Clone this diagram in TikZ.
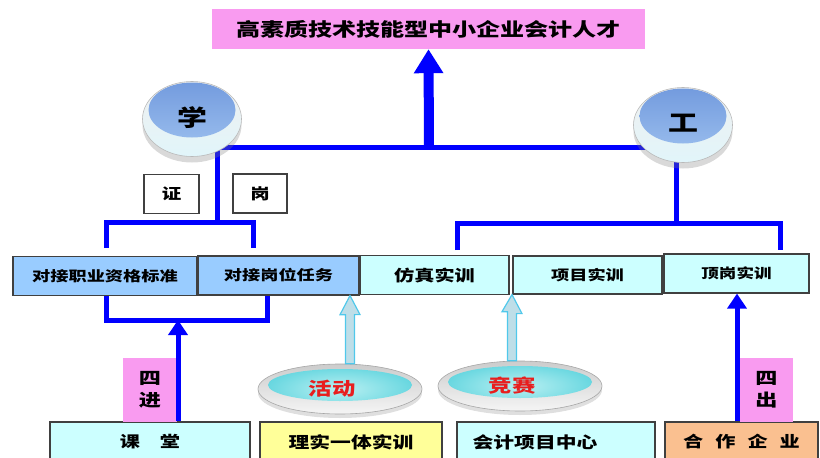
\documentclass[tikz,border=0pt]{standalone}
\usepackage{fontspec}
\setmainfont[FakeStretch=1.3]{Noto Sans CJK SC}
\usetikzlibrary{shapes.geometric,arrows.meta,shadows,backgrounds}

\definecolor{titlepink}{RGB}{249,155,240}
\definecolor{dockblue}{RGB}{153,204,255}
\definecolor{palecyan}{RGB}{204,255,255}
\definecolor{paleyellow}{RGB}{255,255,153}
\definecolor{paleorange}{RGB}{250,192,144}
\definecolor{linkblue}{RGB}{0,0,255}
\definecolor{rimgray}{RGB}{64,64,64}
\definecolor{balltop}{RGB}{115,155,222}
\definecolor{balllow}{RGB}{160,195,240}
\definecolor{ballrim}{RGB}{225,245,250}
\definecolor{discteal}{RGB}{95,212,222}
\definecolor{disclight}{RGB}{185,240,242}
\definecolor{hollowfill}{RGB}{190,222,232}
\definecolor{hollowline}{RGB}{80,200,235}
\definecolor{discred}{RGB}{232,30,30}

\tikzset{
  link/.style={draw=linkblue, line width=5pt},
  uparrow/.style={link, -{Triangle[width=19pt,length=15pt]}},
  hollow/.style={draw=hollowline, fill=hollowfill, line width=1.2pt, line join=miter},
  box/.style={draw=rimgray, line width=1.2pt, inner sep=0pt, minimum height=39pt},
  tag/.style={fill=titlepink, inner sep=0pt, minimum width=54pt, minimum height=64pt,
    align=center, font=\bfseries\fontsize{17}{22}\selectfont},
  ball/.style={ellipse, inner sep=0pt, minimum width=99pt, minimum height=75pt,
    draw=gray!55, line width=0.6pt, top color=gray!12, bottom color=ballrim,
    drop shadow={shadow xshift=0pt, shadow yshift=-6pt, opacity=0.3, fill=gray},
    path picture={\shade[top color=balltop, bottom color=balllow]
      ([yshift=9pt]path picture bounding box.center) ellipse [x radius=43.5pt, y radius=27.5pt];},
    font=\bfseries\fontsize{23}{23}\selectfont},
  disc/.style={ellipse, inner sep=0pt, minimum width=164pt, minimum height=50pt,
    draw=gray!70, line width=0.6pt, top color=gray!40, bottom color=gray!8,
    drop shadow={shadow xshift=0pt, shadow yshift=-4pt, opacity=0.25, fill=gray},
    path picture={\shade[inner color=disclight, outer color=discteal]
      ([yshift=4pt]path picture bounding box.center) ellipse [x radius=72pt, y radius=16pt];},
    font=\bfseries\fontsize{18}{18}\selectfont, text=discred}
}

\begin{document}
\begin{tikzpicture}[x=1pt,y=-1pt]
  \useasboundingbox (0,0) rectangle (820,458);
  \clip (0,0) rectangle (820,458);

  % junctions of the blue lines
  \coordinate (xj) at (217,147);
  \coordinate (topj) at (429,147);
  \coordinate (lb) at (217,222);
  \coordinate (zl) at (106,248);
  \coordinate (zr) at (253,248);
  \coordinate (gk) at (676,223);
  \coordinate (fl) at (457,250);
  \coordinate (fr) at (780,250);
  \coordinate (bl) at (106,320);
  \coordinate (br) at (267,320);

  % goal
  \node[fill=titlepink, inner sep=0pt, minimum width=433pt, minimum height=40pt,
    font=\bfseries\fontsize{18.5}{20}\selectfont] (title) at (428.5,29) {高素质技术技能型中小企业会计人才};

  % xue and gong
  \node[ball] (xue) at (192,119) {\raisebox{4pt}{学}};
  \node[ball] (gong) at (683,125) {\raisebox{4pt}{工}};

  \node[box, fill=white, minimum width=55pt, font=\bfseries\fontsize{15}{15}\selectfont] (zheng) at (171.5,194) {证};
  \node[box, fill=white, minimum width=54pt, font=\bfseries\fontsize{15}{15}\selectfont] (gang) at (260,193.5) {岗};

  % middle row
  \node[box, fill=dockblue, minimum width=184pt, font=\bfseries\fontsize{14}{14}\selectfont] (zhiye) at (105,276) {对接职业资格标准};
  \node[box, fill=dockblue, minimum width=161pt, font=\bfseries\fontsize{14}{14}\selectfont] (renwu) at (278.5,275.5) {对接岗位任务};
  \node[box, fill=palecyan, minimum width=149pt, font=\bfseries\fontsize{15.5}{15.5}\selectfont] (fangzhen) at (434.5,275) {仿真实训};
  \node[box, fill=palecyan, minimum width=149pt, minimum height=38pt, font=\bfseries\fontsize{14}{14}\selectfont] (xiangmu) at (587.5,275) {项目实训};
  \node[box, fill=palecyan, minimum width=145pt, font=\bfseries\fontsize{13.5}{13.5}\selectfont] (dinggang) at (736.5,273.5) {顶岗实训};

  % activities
  \node[disc, label={[text=discred, font=\bfseries\fontsize{18}{18}\selectfont, xshift=-8pt]center:活动}] (huodong) at (340,389) {};
  \node[disc, label={[text=discred, font=\bfseries\fontsize{18}{18}\selectfont, xshift=-8pt]center:竞赛}] (jingsai) at (520,386) {};

  % bottom row
  \node[box, fill=palecyan, minimum width=200pt, minimum height=40pt, font=\bfseries\fontsize{15.5}{15.5}\selectfont] (ketang) at (150,442) {课\hspace{20pt}堂};
  \node[box, fill=paleyellow, minimum width=182pt, minimum height=40pt, font=\bfseries\fontsize{16}{16}\selectfont] (lishi) at (351,442) {理实一体实训};
  \node[box, fill=palecyan, minimum width=198pt, minimum height=40pt, font=\bfseries\fontsize{16}{16}\selectfont] (kuaiji) at (556,442) {会计项目中心\hspace*{42pt}};
  \node[box, fill=paleorange, minimum width=153pt, minimum height=40pt, font=\bfseries\fontsize{15.5}{15.5}\selectfont] (hezuo) at (741.5,442) {合\hspace{12pt}作\hspace{12pt}企\hspace{12pt}业};

  \node[tag] (sijin) at (150,390) {四\\进};
  \node[tag, minimum width=53pt] (sichu) at (766.5,390) {四\\出};

  % lines behind the balls
  \begin{scope}[on background layer]
    \draw[link] (gong.center |- xj) -- (xj) -- (lb);
    \draw[link] (gk |- gong.center) -- (gk);
  \end{scope}

  \draw[link, line width=10pt, -{Triangle[width=28pt,length=24pt]}] (topj) -- (title.south);
  \draw[link] (zl) |- (lb) -| (zr);
  \draw[link] (fl) |- (gk) -| (fr);
  \draw[link] (bl |- zhiye.south) -- (bl) -- (br) -- (br |- renwu.south);

  \draw[uparrow] ([xshift=28pt]ketang.north) -- ([xshift=28pt]ketang.north |- bl);
  \draw[uparrow] ([xshift=-4.5pt]hezuo.north) -- ([xshift=-4.5pt]hezuo.north |- dinggang.south);

  % hollow arrows
  \coordinate (ha) at ([xshift=10pt]huodong.north);
  \coordinate (ja) at ([xshift=-8pt]jingsai.north);
  \draw[hollow] ([xshift=-4.5pt]ha) -- ++(0,-49) -- ++(-5.5,0) -- (ha |- renwu.south)
    -- ++(10,19) -- ++(-5.5,0) -- ([xshift=4.5pt]ha) -- cycle;
  \draw[hollow] ([xshift=-4.5pt]ja) -- ++(0,-49) -- ++(-5.5,0) -- (ja |- xiangmu.south)
    -- ++(10,19) -- ++(-5.5,0) -- ([xshift=4.5pt]ja) -- cycle;
\end{tikzpicture}
\end{document}
